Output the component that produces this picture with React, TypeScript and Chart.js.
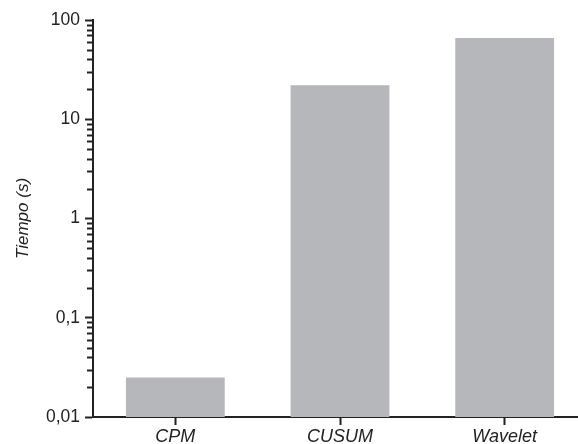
import React, { useEffect, useRef } from "react";
import { Chart, registerables } from "chart.js";

Chart.register(...registerables);

// Processing time per change-detection method (seconds, log scale)
const categories = ["CPM", "CUSUM", "Wavelet"];
const tiempos = [0.025, 22, 66];

const yTickValues = [0.01, 0.1, 1, 10, 100];
const yTickLabels = ["0,01", "0,1", "1", "10", "100"];
const minorMultipliers = [2, 3, 4, 5, 6, 7, 8, 9];

const AXIS_COLOR = "#222222";
const BAR_COLOR = "#b6b7ba";
const FONT = "'Liberation Sans', Arial, Helvetica, sans-serif";

// Short unlabeled ticks between the decades of the log axis
const minorTicksPlugin = {
  id: "minorTicks",
  afterDraw(chart: any) {
    const scale = chart.scales.y;
    const ctx = chart.ctx;
    const left = chart.chartArea.left;
    ctx.save();
    ctx.strokeStyle = AXIS_COLOR;
    ctx.lineWidth = 2;
    for (let i = 0; i < yTickValues.length - 1; i++) {
      for (const m of minorMultipliers) {
        const y = Math.round(scale.getPixelForValue(yTickValues[i] * m)) + 0.5;
        ctx.beginPath();
        ctx.moveTo(left - 6, y);
        ctx.lineTo(left, y);
        ctx.stroke();
      }
    }
    ctx.restore();
  },
};

export default function App() {
  const canvasRef = useRef<HTMLCanvasElement>(null);

  useEffect(() => {
    if (!canvasRef.current) return;
    const chart = new Chart(canvasRef.current, {
      type: "bar",
      data: {
        labels: categories,
        datasets: [
          {
            data: tiempos,
            backgroundColor: BAR_COLOR,
            borderWidth: 0,
            categoryPercentage: 1,
            barPercentage: 0.6,
          },
        ],
      },
      options: {
        responsive: false,
        animation: false,
        layout: { padding: { top: 20, right: 5, left: 0, bottom: 0 } },
        plugins: {
          legend: { display: false },
          tooltip: { enabled: false },
        },
        scales: {
          x: {
            offset: true,
            grid: {
              display: true,
              offset: false,
              drawOnChartArea: false,
              drawTicks: true,
              tickLength: 8,
              tickWidth: 2,
              tickColor: AXIS_COLOR,
            },
            border: { display: true, color: AXIS_COLOR, width: 2 },
            ticks: {
              color: AXIS_COLOR,
              padding: 1,
              maxRotation: 0,
              font: { family: FONT, size: 18, style: "italic" },
            },
            afterFit(scale: any) {
              scale.height = 27;
            },
          },
          y: {
            type: "logarithmic",
            min: 0.01,
            max: 100,
            afterBuildTicks(scale: any) {
              scale.ticks = yTickValues.map((v) => ({ value: v }));
            },
            afterFit(scale: any) {
              scale.width = 93;
            },
            grid: {
              display: true,
              drawOnChartArea: false,
              drawTicks: true,
              tickLength: 8,
              tickWidth: 2,
              tickColor: AXIS_COLOR,
            },
            border: { display: true, color: AXIS_COLOR, width: 2 },
            ticks: {
              color: AXIS_COLOR,
              padding: 5,
              autoSkip: false,
              font: { family: FONT, size: 17.5 },
              callback(value: any) {
                const i = yTickValues.findIndex((v) => Math.abs(v - Number(value)) < v * 1e-6);
                return i >= 0 ? yTickLabels[i] : "";
              },
            },
            title: {
              display: true,
              text: "Tiempo (s)",
              color: AXIS_COLOR,
              padding: { top: 13, bottom: 0 },
              font: { family: FONT, size: 17, style: "italic" },
            },
          },
        },
      },
      plugins: [minorTicksPlugin],
    });
    return () => chart.destroy();
  }, []);

  return (
    <div
      style={{
        position: "absolute",
        left: 0,
        top: 0,
        width: 578,
        height: 444,
        overflow: "hidden",
        background: "#ffffff",
      }}
    >
      <canvas ref={canvasRef} width={592} height={444} style={{ display: "block" }} />
    </div>
  );
}
